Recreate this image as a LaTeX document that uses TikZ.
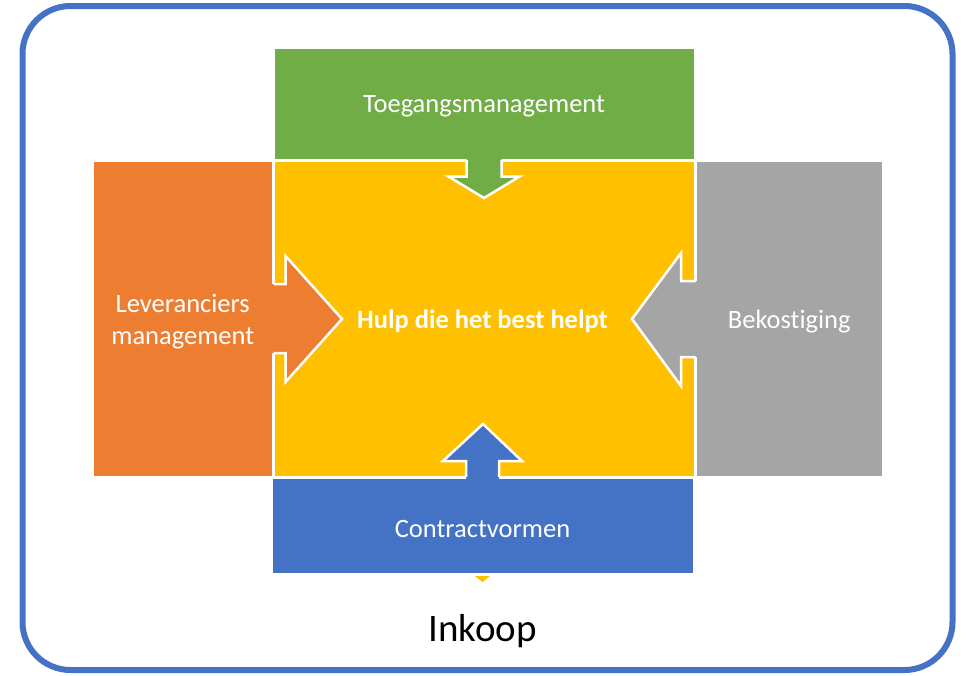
\documentclass[tikz,border=0pt]{standalone}
\usepackage{fontspec}
\setmainfont{Carlito}[Ligatures=CommonOff]
\definecolor{cgreen}{HTML}{70AD47}
\definecolor{corange}{HTML}{ED7D31}
\definecolor{cgrey}{HTML}{A5A5A5}
\definecolor{cblue}{HTML}{4472C4}
\definecolor{cyellow}{HTML}{FFC000}
\begin{document}
\begin{tikzpicture}[x=1pt,y=-1pt,
  box/.style={rectangle, draw=white, line width=3pt, inner sep=0pt, outer sep=0pt},
  lbl/.style={text=white, align=center, inner sep=0pt, yshift=-3pt, font=\fontsize{26.5}{31.5}\selectfont},
  arrowline/.style={draw=white, line width=2.5pt, line join=miter},
  frame/.style={draw=cblue, line width=6pt, rounded corners=48pt}]
\useasboundingbox (0,0) rectangle (966,675);
\draw[frame] (22.5,6) rectangle (952.5,670);
% boxes
\node[box, fill=cyellow, minimum width=422pt, minimum height=317pt] (core) at (484.5,318.5) {};
\node[box, fill=cgreen, minimum width=422pt, minimum height=112.5pt] (top) at (484,103.75) {};
\node[box, fill=corange, minimum width=181.5pt, minimum height=317pt] (left) at (182.75,318.5) {};
\node[box, fill=cgrey, minimum width=187.5pt, minimum height=317pt] (right) at (789.25,318.5) {};
\node[box, fill=cblue, minimum width=423pt, minimum height=97pt] (bottom) at (482.5,525.5) {};
% small yellow triangle
\fill[cyellow] (475,576) -- (490,576) -- (482.5,582) -- cycle;
% arrows: fills
\fill[cgreen] (466.5,154) -- (466.5,176.5) -- (448.5,176.5) -- (484,198) -- (519.5,176.5) -- (501.5,176.5) -- (501.5,154) -- cycle;
\fill[corange] (268,284) -- (285.5,284) -- (285.5,256) -- (342,319) -- (285.5,382) -- (285.5,353) -- (268,353) -- cycle;
\fill[cgrey] (701,281) -- (681,281) -- (681,253) -- (632,319) -- (681,386) -- (681,357) -- (701,357) -- cycle;
\fill[cblue] (466,483) -- (466,461) -- (443,461) -- (483,424) -- (522,461) -- (499,461) -- (499,483) -- cycle;
% arrows: outlines
\draw[arrowline] (466.5,160) -- (466.5,176.5) -- (448.5,176.5) -- (484,198) -- (519.5,176.5) -- (501.5,176.5) -- (501.5,160);
\draw[arrowline] (273.5,284) -- (285.5,284) -- (285.5,256) -- (342,319) -- (285.5,382) -- (285.5,353) -- (273.5,353);
\draw[arrowline] (695.5,281) -- (681,281) -- (681,253) -- (632,319) -- (681,386) -- (681,357) -- (695.5,357);
\draw[arrowline] (466,477) -- (466,461) -- (443,461) -- (483,424) -- (522,461) -- (499,461) -- (499,477);
% labels
\node[lbl, font=\bfseries\fontsize{26.5}{31.5}\selectfont] (coretext) at (482.5,318.5) {Hulp die het best helpt};
\node[lbl] (toptext) at (top) {Toegangsmanagement};
\node[lbl] (lefttext) at (left) {Leveranciers\\management};
\node[lbl] (righttext) at (right) {Bekostiging};
\node[lbl] (bottomtext) at (bottom) {Contractvormen};
% caption
\node[font=\fontsize{39}{44}\selectfont, inner sep=0pt] (caption) at (482.5,631) {Inkoop};
\end{tikzpicture}
\end{document}
